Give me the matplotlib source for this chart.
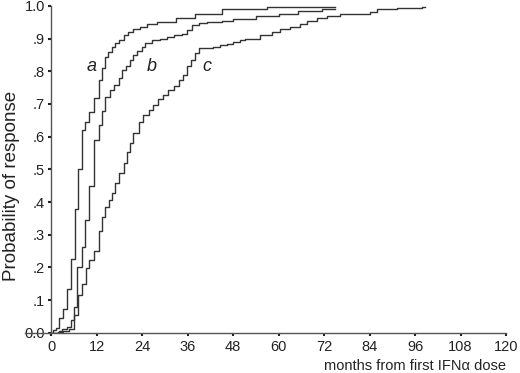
import matplotlib
matplotlib.use("Agg")
import matplotlib.pyplot as plt

# cumulative probability of response (step curves)
a_months = [0, 0.6, 1.3, 2.2, 3.1, 4.1, 5.2, 6.3, 7.2, 8.1, 9.0, 10.1, 11.2, 12.5,
            13.4, 14.2, 15.1, 16.0, 16.9, 17.8, 19.1, 20.4, 21.7, 23.5, 25.2, 28,
            33, 38, 45, 57, 75]
a_prob = [0, 0.008, 0.015, 0.044, 0.072, 0.133, 0.226, 0.38, 0.5, 0.62, 0.646,
          0.677, 0.717, 0.773, 0.81, 0.843, 0.86, 0.875, 0.887, 0.897, 0.911,
          0.92, 0.928, 0.935, 0.944, 0.952, 0.962, 0.975, 0.99, 0.997, 0.997]

b_months = [0, 2.0, 2.8, 4.1, 5.2, 6.1, 6.9, 8.1, 9.0, 10.1, 11.2, 12.5, 13.4,
            14.2, 15.6, 16.5, 17.8, 18.7, 19.8, 20.8, 21.7, 22.6, 23.9, 24.8,
            26.6, 28.8, 30.5, 32.3, 34.5, 35.8, 37.1, 38.9, 41.1, 45, 48, 54,
            60, 65, 71.4, 75]
b_prob = [0, 0.005, 0.01, 0.018, 0.04, 0.08, 0.2, 0.263, 0.345, 0.45, 0.59,
          0.635, 0.68, 0.72, 0.743, 0.758, 0.78, 0.804, 0.815, 0.835, 0.85,
          0.862, 0.875, 0.886, 0.895, 0.9, 0.905, 0.91, 0.915, 0.925, 0.942,
          0.948, 0.952, 0.955, 0.96, 0.969, 0.975, 0.985, 0.99, 0.99]

c_months = [0, 1.9, 3.2, 4.6, 6.1, 7.2, 8.1, 9.2, 10.1, 11.2, 12.5, 13.4, 14.2,
            15.3, 16.0, 16.9, 18.0, 19.1, 20.0, 20.8, 21.7, 23.1, 24.2, 25.7,
            27.0, 28.3, 29.6, 30.9, 32.3, 33.6, 34.7, 35.8, 36.9, 38.0, 38.9,
            42.8, 44.6, 46.4, 48.1, 49.9, 51.2, 55.1, 58.2, 60.4, 63.1, 65.7,
            67.5, 70.1, 72.7, 76.3, 84.2, 85.9, 91.2, 97.8, 98.5]
c_prob = [0, 0.003, 0.006, 0.012, 0.054, 0.115, 0.15, 0.197, 0.222, 0.25, 0.31,
          0.355, 0.385, 0.405, 0.427, 0.457, 0.488, 0.518, 0.554, 0.58, 0.61,
          0.646, 0.666, 0.682, 0.697, 0.715, 0.727, 0.743, 0.755, 0.773, 0.79,
          0.815, 0.835, 0.855, 0.871, 0.875, 0.88, 0.885, 0.89, 0.895, 0.9,
          0.911, 0.921, 0.928, 0.935, 0.945, 0.955, 0.963, 0.97, 0.975, 0.983,
          0.99, 0.993, 0.998, 0.998]

curves = [("a", a_months, a_prob, 10.8), ("b", b_months, b_prob, 26.6),
          ("c", c_months, c_prob, 41.2)]

x_ticks = list(range(0, 121, 12))
y_ticks = [i / 10 for i in range(11)]
y_labels = ["0.0", ".1", ".2", ".3", ".4", ".5", ".6", ".7", ".8", ".9", "1.0"]

plt.rcParams["font.family"] = ["Liberation Sans", "DejaVu Sans"]

fig = plt.figure(figsize=(5.2, 3.73), dpi=100)
ax = fig.add_axes([25 / 520, 0.108, 481 / 520, 0.876])

for name, xs, ys, lx in curves:
    ax.plot(xs, ys, drawstyle="steps-post", color="#333333", lw=1.0)
    ax.text(lx, 0.816, name, style="italic", fontsize=13, ha="center",
            va="center", color="#222222")

ax.set_xlim(-6.9, 120)
ax.set_ylim(0, 1.0)
ax.spines["left"].set_position(("data", 0))
ax.spines["left"].set_bounds(0, 1.0)
for s in ("top", "right"):
    ax.spines[s].set_visible(False)
for s in ("left", "bottom"):
    ax.spines[s].set_color("#555555")
    ax.spines[s].set_linewidth(1.0)

ax.set_xticks(x_ticks)
ax.set_yticks(y_ticks)
ax.set_yticklabels(y_labels)
ax.tick_params(axis="both", length=2.5, width=1.5, color="#222222",
               labelsize=10.5, labelcolor="#222222", pad=2)
ax.tick_params(axis="x", pad=3)

ax.set_ylabel("Probability of response", fontsize=13.5, color="#222222")
# label sits a bit below the axis centre in the original
ax.yaxis.set_label_coords(-0.01, 0.45)
ax.set_xlabel("months from first IFN\u03b1 dose", fontsize=10.5,
              color="#222222", loc="right", labelpad=3)

fig.savefig("out.png", dpi=100)
